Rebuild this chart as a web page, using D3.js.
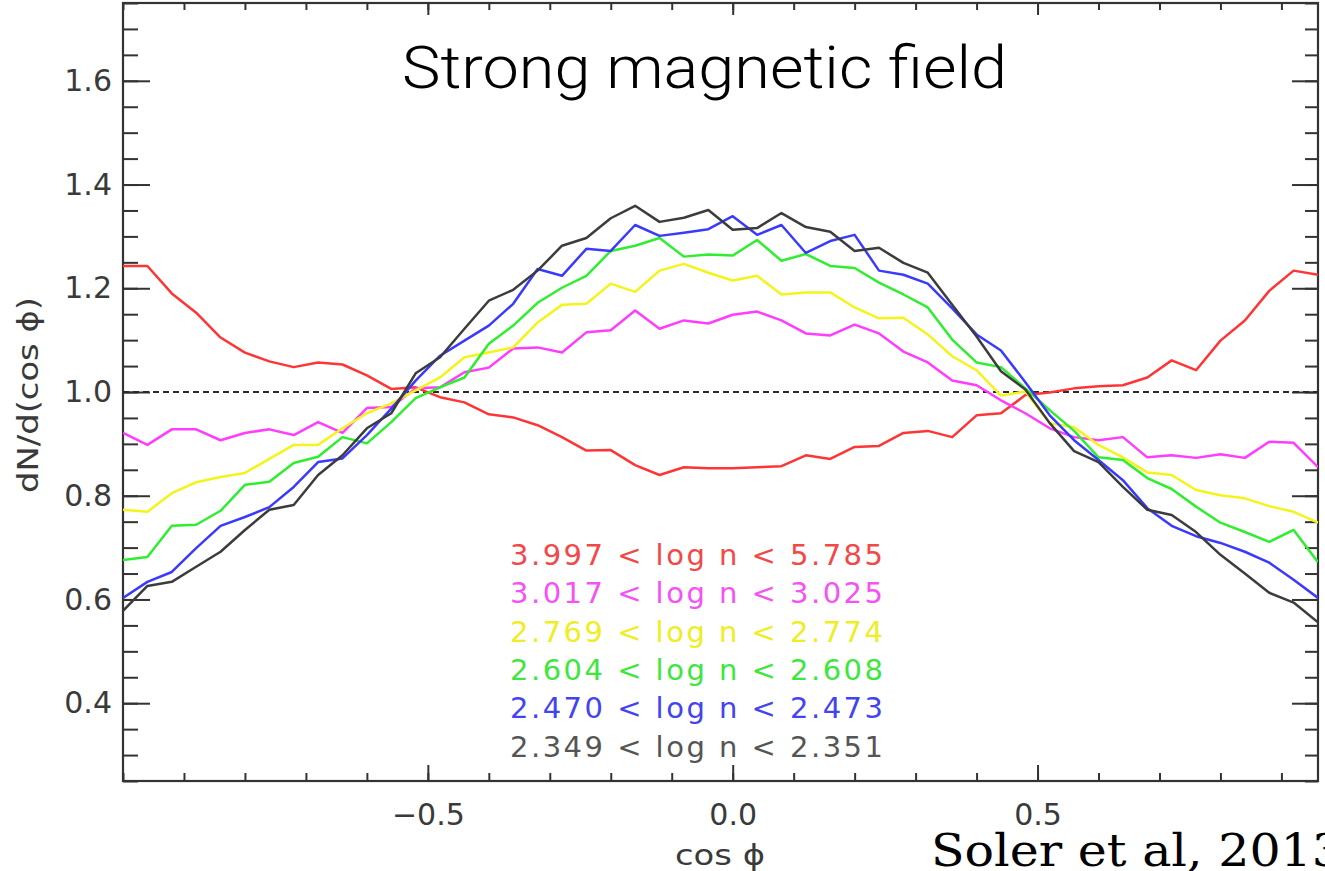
<!DOCTYPE html>
<html>
<head>
<meta charset="utf-8">
<script src="https://cdn.jsdelivr.net/npm/d3@7"></script>
<style>
  body { margin: 0; background: #fff; overflow: hidden; }
</style>
</head>
<body>
<div id="my_dataviz"></div>
<script>

// cos(phi) bins (left edges)
var cosPhi = [-1.00,-0.96,-0.92,-0.88,-0.84,-0.80,-0.76,-0.72,-0.68,-0.64,
              -0.60,-0.56,-0.52,-0.48,-0.44,-0.40,-0.36,-0.32,-0.28,-0.24,
              -0.20,-0.16,-0.12,-0.08,-0.04, 0.00, 0.04, 0.08, 0.12, 0.16,
               0.20, 0.24, 0.28, 0.32, 0.36, 0.40, 0.44, 0.48, 0.52, 0.56,
               0.60, 0.64, 0.68, 0.72, 0.76, 0.80, 0.84, 0.88, 0.92, 0.96];

// dN/d(cos phi) for each density bin
var nRed = [1.243,1.243,1.190,1.153,1.105,1.076,1.059,1.048,1.057,1.053,
            1.032,1.006,1.009,0.990,0.980,0.957,0.951,0.936,0.913,0.887,
            0.888,0.859,0.840,0.855,0.853,0.853,0.855,0.857,0.878,0.871,
            0.894,0.896,0.921,0.925,0.913,0.955,0.959,0.994,0.999,1.007,
            1.011,1.013,1.028,1.061,1.042,1.099,1.138,1.195,1.234,1.226];
var nMagenta = [0.921,0.898,0.928,0.928,0.907,0.921,0.928,0.917,0.942,0.921,
                0.969,0.971,1.007,1.009,1.038,1.047,1.084,1.086,1.076,1.115,
                1.119,1.157,1.122,1.138,1.132,1.149,1.155,1.138,1.113,1.109,
                1.130,1.113,1.078,1.057,1.022,1.013,0.984,0.959,0.930,0.913,
                0.907,0.913,0.874,0.878,0.873,0.880,0.873,0.904,0.902,0.855];
var nYellow = [0.773,0.769,0.805,0.826,0.836,0.844,0.871,0.898,0.898,0.930,
               0.959,0.978,1.003,1.028,1.067,1.076,1.086,1.134,1.168,1.170,
               1.209,1.193,1.234,1.247,1.230,1.215,1.224,1.188,1.192,1.192,
               1.163,1.142,1.143,1.111,1.069,1.042,0.993,1.001,0.940,0.932,
               0.898,0.874,0.845,0.840,0.811,0.801,0.795,0.780,0.769,0.748];
var nGreen = [0.676,0.682,0.742,0.744,0.771,0.821,0.827,0.863,0.875,0.913,
              0.901,0.942,0.988,1.009,1.028,1.093,1.128,1.172,1.201,1.224,
              1.272,1.282,1.297,1.261,1.265,1.263,1.293,1.253,1.266,1.243,
              1.239,1.211,1.188,1.163,1.101,1.057,1.048,1.007,0.965,0.925,
              0.874,0.869,0.834,0.813,0.779,0.748,0.730,0.711,0.734,0.672];
var nBlue = [0.603,0.634,0.653,0.699,0.742,0.759,0.778,0.817,0.865,0.872,
             0.917,0.968,1.022,1.070,1.099,1.128,1.170,1.237,1.224,1.276,
             1.272,1.322,1.301,1.307,1.314,1.339,1.303,1.322,1.268,1.291,
             1.303,1.234,1.226,1.209,1.161,1.111,1.080,1.019,0.955,0.907,
             0.869,0.830,0.776,0.742,0.722,0.709,0.692,0.671,0.638,0.603];
var nBlack = [0.578,0.626,0.634,0.663,0.692,0.734,0.773,0.782,0.840,0.878,
              0.930,0.959,1.036,1.067,1.122,1.176,1.197,1.234,1.282,1.297,
              1.335,1.359,1.328,1.336,1.351,1.313,1.316,1.345,1.318,1.309,
              1.272,1.278,1.249,1.230,1.168,1.107,1.040,1.005,0.940,0.886,
              0.865,0.817,0.773,0.763,0.730,0.686,0.650,0.613,0.594,0.556];

var seriesLabels = ["3.997 < log n < 5.785",
                    "3.017 < log n < 3.025",
                    "2.769 < log n < 2.774",
                    "2.604 < log n < 2.608",
                    "2.470 < log n < 2.473",
                    "2.349 < log n < 2.351"];
var seriesColors = ["#ff3535", "#ff3cff", "#f4f41c", "#2fee2f", "#3a3aff", "#3c3c3c"];
var legendColors = ["#f24848", "#f552f5", "#eeee22", "#3ee63e", "#4343f0", "#555555"];

var yTickValues = [0.4, 0.6, 0.8, 1.0, 1.2, 1.4, 1.6];
var yTickLabels = ["0.4", "0.6", "0.8", "1.0", "1.2", "1.4", "1.6"];
var xTickValues = [-0.5, 0.0, 0.5];
var xTickLabels = ["\u22120.5", "0.0", "0.5"];

var series = [nRed, nMagenta, nYellow, nGreen, nBlue, nBlack];

// set the dimensions and margins of the graph
var margin = {top: 3, right: 7, bottom: 90, left: 123},
    width = 1325 - margin.left - margin.right,
    height = 871 - margin.top - margin.bottom;

var labelFont = "'DejaVu Sans', Verdana, sans-serif";
var axisColor = "#333";

var root = d3.select("#my_dataviz")
  .append("svg")
    .attr("width", 1325)
    .attr("height", 871);

var svg = root.append("g")
    .attr("transform", "translate(" + margin.left + "," + margin.top + ")");

// scales
var x = d3.scaleLinear()
  .domain([-1, 0.96])
  .range([0, width]);

var y = d3.scaleLinear()
  .domain([0.25, 1.75])
  .range([height, 0]);

// minor ticks from the scales themselves
var xMinor = x.ticks(20);
var yMinor = y.ticks(30);

function styleAxis(g) {
  g.select(".domain").remove();
  g.selectAll(".tick line").attr("stroke", axisColor).attr("stroke-width", 2);
  g.selectAll(".tick text")
    .attr("fill", "#3a3a3a")
    .style("font-family", labelFont)
    .style("font-size", "30px");
}

// left axis: minor then major
svg.append("g")
  .call(d3.axisLeft(y).tickValues(yMinor).tickSize(-15).tickFormat(""))
  .call(styleAxis);
svg.append("g")
  .call(d3.axisLeft(y).tickValues(yTickValues).tickSize(-27).tickPadding(11)
    .tickFormat(function(d, i) { return yTickLabels[i]; }))
  .call(styleAxis);

// right axis
svg.append("g")
  .attr("transform", "translate(" + width + ",0)")
  .call(d3.axisRight(y).tickValues(yMinor).tickSize(-13).tickFormat(""))
  .call(styleAxis);
svg.append("g")
  .attr("transform", "translate(" + width + ",0)")
  .call(d3.axisRight(y).tickValues(yTickValues).tickSize(-26).tickFormat(""))
  .call(styleAxis);

// bottom axis
svg.append("g")
  .attr("transform", "translate(0," + height + ")")
  .call(d3.axisBottom(x).tickValues(xMinor).tickSize(-8).tickFormat(""))
  .call(styleAxis);
svg.append("g")
  .attr("transform", "translate(0," + height + ")")
  .call(d3.axisBottom(x).tickValues(xTickValues).tickSize(-16).tickPadding(23)
    .tickFormat(function(d, i) { return xTickLabels[i]; }))
  .call(styleAxis);

// top axis
svg.append("g")
  .call(d3.axisTop(x).tickValues(xMinor).tickSize(-7).tickFormat(""))
  .call(styleAxis);
svg.append("g")
  .call(d3.axisTop(x).tickValues(xTickValues).tickSize(-12).tickFormat(""))
  .call(styleAxis);

// frame
svg.append("rect")
  .attr("width", width)
  .attr("height", height)
  .attr("fill", "none")
  .attr("stroke", axisColor)
  .attr("stroke-width", 2.2);

// clip the curves to the plot box
svg.append("clipPath")
    .attr("id", "clip")
  .append("rect")
    .attr("width", width)
    .attr("height", height);

// reference line at 1
svg.append("line")
  .attr("x1", 0)
  .attr("x2", width)
  .attr("y1", y(1))
  .attr("y2", y(1))
  .attr("stroke", "#2a2a2a")
  .attr("stroke-width", 2)
  .attr("stroke-dasharray", "6,4");

var line = d3.line()
  .x(function(d, i) { return x(cosPhi[i]); })
  .y(function(d) { return y(d); });

svg.append("g")
  .attr("clip-path", "url(#clip)")
  .selectAll("path")
  .data(series)
  .enter().append("path")
    .attr("d", line)
    .attr("fill", "none")
    .attr("stroke", function(d, i) { return seriesColors[i]; })
    .attr("stroke-width", 2.5)
    .attr("stroke-linejoin", "round");

// legend
svg.selectAll(".legend")
  .data(seriesLabels)
  .enter().append("text")
    .attr("class", "legend")
    .attr("x", 387)
    .attr("y", function(d, i) { return 562 + i * 38.3; })
    .attr("fill", function(d, i) { return legendColors[i]; })
    .attr("textLength", 373)
    .attr("lengthAdjust", "spacing")
    .style("font-family", labelFont)
    .style("font-size", "29px")
    .text(function(d) { return d; });

// axis titles
root.append("text")
  .attr("transform", "translate(38,395) rotate(-90)")
  .attr("text-anchor", "middle")
  .attr("fill", "#3a3a3a")
  .attr("textLength", 196)
  .attr("lengthAdjust", "spacingAndGlyphs")
  .style("font-family", labelFont)
  .style("font-size", "28px")
  .text("dN/d(cos \u03d5)");

root.append("text")
  .attr("x", 720)
  .attr("y", 865)
  .attr("text-anchor", "middle")
  .attr("fill", "#3a3a3a")
  .attr("textLength", 90)
  .attr("lengthAdjust", "spacingAndGlyphs")
  .style("font-family", labelFont)
  .style("font-size", "28px")
  .text("cos \u03d5");

// title and citation
root.append("text")
  .attr("x", 402)
  .attr("y", 88)
  .attr("fill", "#000")
  .attr("textLength", 605)
  .attr("lengthAdjust", "spacingAndGlyphs")
  .style("font-family", "'Helvetica Neue', 'Roboto Light', 'Lato Light', Roboto, Lato, sans-serif")
  .style("font-weight", 300)
  .style("font-size", "60px")
  .text("Strong magnetic field");

root.append("text")
  .attr("x", 931)
  .attr("y", 866)
  .attr("fill", "#000")
  .attr("textLength", 412)
  .attr("lengthAdjust", "spacingAndGlyphs")
  .style("font-family", "'DejaVu Serif', 'Liberation Serif', serif")
  .style("font-size", "44px")
  .text("Soler et al, 2013");

</script>
</body>
</html>
